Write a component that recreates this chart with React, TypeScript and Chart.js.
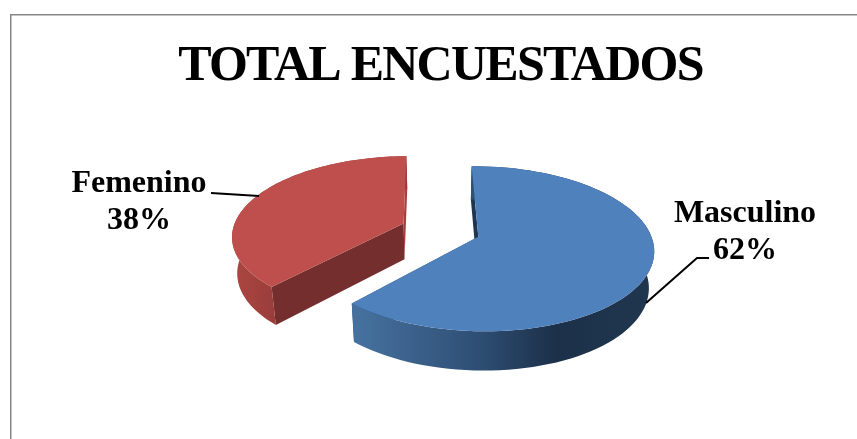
import React, { useEffect, useRef } from "react";
import { Chart, registerables } from "chart.js";

Chart.register(...registerables);

const chartTitle = "TOTAL ENCUESTADOS";
const categories = ["Masculino", "Femenino"];
const shares = [62, 38];
const topColors = ["#4F81BD", "#BE4F4C"];

// Camera model of the tilted pie
const TILT = 0.461;
const PERSPECTIVE = 0.145;
const DEPTH = 36;
const DEPTH_GROW = 3;
const SHRINK = 0.975;

type Pt = [number, number];

const pie3d = {
  id: "pie3d",
  beforeDraw(chart: any) {
    const { ctx } = chart;
    ctx.save();
    ctx.fillStyle = "#fff";
    ctx.fillRect(0, 0, chart.width, chart.height);
    ctx.strokeStyle = "#868686";
    ctx.lineWidth = 1.5;
    ctx.strokeRect(10.75, 14.75, chart.width + 20, chart.height + 20);
    ctx.restore();
    // The heading is set tighter than the font's natural spacing
    ctx.letterSpacing = "-1.75px";
  },
  beforeDatasetDraw(chart: any) {
    const { ctx } = chart;
    ctx.letterSpacing = "0px";
    const arcs = chart.getDatasetMeta(0).data;
    const R = arcs[0].outerRadius;
    const cx = arcs[0].x;
    const cy = arcs[0].y;

    const top = (dx: number, dy: number): Pt => {
      const w = 1 - (PERSPECTIVE * dy) / R;
      return [cx + dx / w, cy + (dy * TILT) / w];
    };
    const bottom = (dx: number, dy: number): Pt => {
      const [x, y] = top(dx, dy);
      return [cx + (x - cx) * SHRINK, y + DEPTH + (DEPTH_GROW * dy) / R];
    };
    const fillPoly = (pts: Pt[], fill: any) => {
      ctx.beginPath();
      pts.forEach((p, i) => (i ? ctx.lineTo(p[0], p[1]) : ctx.moveTo(p[0], p[1])));
      ctx.closePath();
      ctx.fillStyle = fill;
      ctx.fill();
    };

    const horizontal = (x0: number, x1: number, stops: [number, string][]) => {
      const g = ctx.createLinearGradient(x0, 0, x1, 0);
      stops.forEach(([s, c]) => g.addColorStop(s, c));
      return g;
    };
    const sideFills = [
      horizontal(356, 650, [[0, "#46719F"], [0.4, "#2F5076"], [0.68, "#1C3049"], [1, "#20364F"]]),
      horizontal(233, 278, [[0, "#AC4743"], [1, "#983C39"]]),
    ];
    const cutFills = ["#1F3550", "#742E2D"];

    [1, 0].forEach((i) => {
      const arc = arcs[i];
      const mid = (arc.startAngle + arc.endAngle) / 2;
      const ax = Math.cos(mid) * arc.options.offset;
      const ay = Math.sin(mid) * arc.options.offset;
      const steps = 90;
      const rim: [number, number][] = [];
      for (let s = 0; s <= steps; s++) {
        const a = arc.startAngle + ((arc.endAngle - arc.startAngle) * s) / steps;
        rim.push([ax + Math.cos(a) * R, ay + Math.sin(a) * R]);
      }
      const first = rim[0];
      const last = rim[rim.length - 1];

      // Walls first, then the flat upper face over them
      fillPoly(
        [top(ax, ay), top(first[0], first[1]), bottom(first[0], first[1]), bottom(ax, ay)],
        cutFills[i],
      );
      fillPoly(
        [top(ax, ay), top(last[0], last[1]), bottom(last[0], last[1]), bottom(ax, ay)],
        i === 0 ? "#2A4A70" : "#A5403E",
      );
      fillPoly(
        [
          ...rim.map((p) => top(p[0], p[1])),
          ...rim.slice().reverse().map((p) => bottom(p[0], p[1])),
        ],
        sideFills[i],
      );
      fillPoly([top(ax, ay), ...rim.map((p) => top(p[0], p[1]))], arc.options.backgroundColor);
    });
    return false;
  },
  afterDraw(chart: any) {
    const { ctx } = chart;
    const total = shares.reduce((a, b) => a + b, 0);
    const placement = [
      { x: 745, y: 214, line: [[646, 303], [697, 258], [709, 258]] },
      { x: 139, y: 184, line: [[211, 193], [259, 196]] },
    ];
    ctx.save();
    ctx.fillStyle = "#000";
    ctx.font = 'bold 32px "Liberation Serif"';
    ctx.textAlign = "center";
    ctx.textBaseline = "middle";
    categories.forEach((name, i) => {
      const p = placement[i];
      ctx.fillText(name, p.x, p.y);
      ctx.fillText(`${Math.round((shares[i] / total) * 100)}%`, p.x, p.y + 37);
      ctx.beginPath();
      p.line.forEach(([x, y], j) => (j ? ctx.lineTo(x, y) : ctx.moveTo(x, y)));
      ctx.strokeStyle = "#000";
      ctx.lineWidth = 2;
      ctx.stroke();
    });
    ctx.restore();
  },
};

export default function App() {
  const canvasRef = useRef<HTMLCanvasElement>(null);

  useEffect(() => {
    const chart = new Chart(canvasRef.current as HTMLCanvasElement, {
      type: "pie",
      data: {
        labels: categories,
        datasets: [{ data: shares, backgroundColor: topColors, offset: 40, borderWidth: 0 }],
      },
      options: {
        responsive: false,
        animation: false,
        rotation: -0.7,
        radius: 171,
        layout: { padding: { left: 24, right: 0, top: 0, bottom: 76 } },
        plugins: {
          legend: { display: false },
          tooltip: { enabled: false },
          title: {
            display: true,
            text: chartTitle,
            color: "#000",
            font: { family: '"Liberation Serif"', size: 50, weight: "bold", lineHeight: 1.2 },
            padding: { top: 37, bottom: 0 },
          },
        },
      } as any,
      plugins: [pie3d],
    });
    return () => chart.destroy();
  }, []);

  return (
    <canvas
      ref={canvasRef}
      width={857}
      height={439}
      style={{ position: "absolute", left: 0, top: 0, display: "block" }}
    />
  );
}
